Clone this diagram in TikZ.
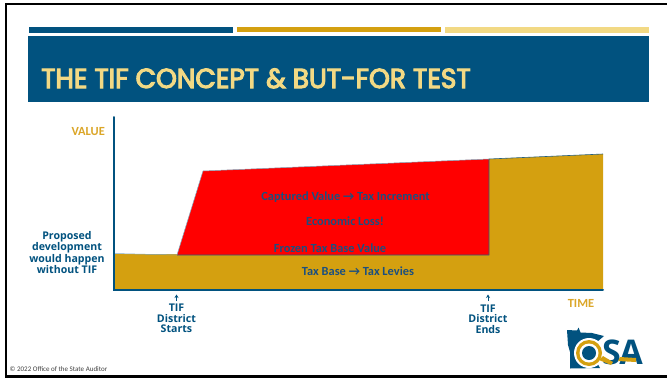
\documentclass[tikz,border=0pt]{standalone}
\usepackage{fontspec}
\setmainfont{Carlito}
\newfontfamily\titlefont[FakeBold=4,FakeStretch=0.962]{Poppins}
\newfontfamily\labelfont{Open Sans}
\definecolor{osablue}{HTML}{01527F}
\definecolor{osagold}{HTML}{D4A010}
\definecolor{osalight}{HTML}{F2D984}
\definecolor{axisgold}{HTML}{DBA628}
\definecolor{txtblue}{HTML}{1B4F80}
\usetikzlibrary{arrows.meta}
\tikzset{
  x=1pt,y=-1pt,
  chartlabel/.style={font=\bfseries\fontsize{12.4}{13}\selectfont,text=txtblue,inner sep=0pt,anchor=center},
  sidelabel/.style={font=\labelfont\bfseries\fontsize{10.6}{10.4}\selectfont,text=osablue,align=center,inner sep=0pt},
  axislabel/.style={font=\bfseries\fontsize{12.4}{13}\selectfont,text=axisgold,inner sep=0pt},
  axisline/.style={draw=osablue,line width=2pt},
  marker/.style={draw=osablue,line width=.8pt,-{Stealth[length=3.5pt,width=4pt]}},
  logoletter/.style={anchor=center,inner sep=0pt,text=osablue,font=\labelfont\bfseries\fontsize{34}{36}\selectfont}
}
\begin{document}
\begin{tikzpicture}
\useasboundingbox (0,0) rectangle (667,378);
\fill[white] (0,0) rectangle (667,378);
% frame
\fill[black] (4.5,2.5) rectangle (667,5);
\fill[black] (4.5,2.5) rectangle (7,378);
\fill[black] (4.5,375) rectangle (667,378);
% top bars
\fill[osablue] (29,27) rectangle (233,33);
\fill[osagold] (237,27) rectangle (441,32);
\fill[osalight] (445,27) rectangle (649,33);
% title
\fill[osablue] (28,36) rectangle (649,102);
\node[anchor=base west,inner sep=0pt,text=osalight,font=\titlefont\fontsize{27.5}{30}\selectfont] (title) at (41,88) {THE TIF CONCEPT \& BUT-FOR TEST};
% areas
\fill[osagold] (114,254) -- (489,255) -- (489,159) -- (603,154) -- (603,290) -- (114,290) -- cycle;
\fill[red] (177,255) -- (203,171) -- (489,159) -- (489,255) -- cycle;
\draw[osablue!70!gray,line width=.6pt] (177,255) -- (489,255) -- (489,159) -- (603,154);
\draw[osablue!50!white,line width=.5pt] (114,253.5) -- (177,255) -- (203,171) -- (489,159);
% axes
\coordinate (origin) at (114,290);
\coordinate (vtop) at (114,117);
\coordinate (hend) at (603,290);
\draw[axisline,line cap=round] (vtop) -- (origin) -- (hend);
% labels
\node[axislabel,anchor=east] (value) at (105,132) {VALUE};
\node[axislabel] (time) at (581,303) {TIME};
\node[chartlabel] (captured) at (345.5,197) {Captured Value → Tax Increment};
\node[chartlabel] (loss) at (345,221) {Economic Loss!};
\node[chartlabel] (frozen) at (330,248) {Frozen Tax Base Value};
\node[chartlabel] (base) at (358,271) {Tax Base → Tax Levies};
\node[sidelabel] (proposed) at (67,252.5) {Proposed\\development\\would happen\\without TIF};
\node[sidelabel] (starts) at (176.5,318.5) {TIF\\District\\Starts};
\node[sidelabel] (ends) at (488,319) {TIF\\District\\Ends};
\coordinate (startaxis) at (176.5,294.5);
\coordinate (endaxis) at (488,294.5);
\draw[marker] (176.5,301) -- (startaxis);
\draw[marker] (488,301) -- (endaxis);
% copyright
\node[anchor=west,inner sep=0pt,text=black!75,font=\fontsize{7}{8}\selectfont] (copy) at (9.5,369.5) {© 2022 Office of the State Auditor};
% logo
\fill[osablue] (567,330) -- (577,330.5) -- (578.5,327.5) -- (580.5,332.5) -- (592,333) -- (604,336) -- (597,342) -- (590,350) -- (600,368) -- (570,368.5) -- (570,352) -- (568,345) -- cycle;
\fill[white] (589,353) circle (15);
\fill[osagold] (589,353) circle (13);
\fill[white] (589,353) circle (9.5);
\fill[osablue] (589,353) circle (7);
\node[logoletter] (s) at (611.5,352) {S};
\node[logoletter] (a) at (631,352) {A};
\fill[osagold] (599,360) -- (603,356) -- (613,362) -- (611,365) -- cycle;
\fill[osagold] (620,357) -- (636,358) -- (636,362) -- (618,361) -- cycle;
\end{tikzpicture}
\end{document}
